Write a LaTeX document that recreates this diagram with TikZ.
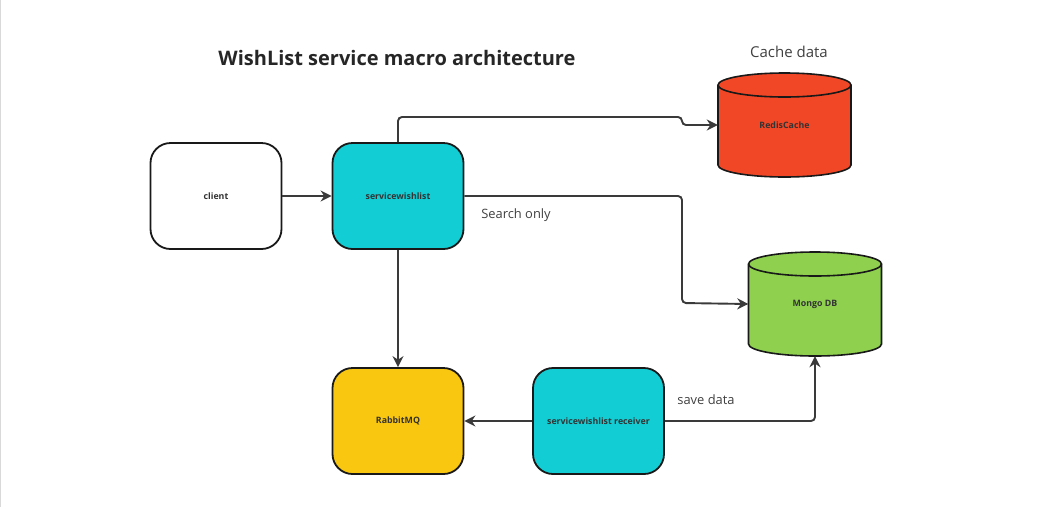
\documentclass[tikz,border=0pt]{standalone}
\usepackage{fontspec}
\setmainfont{Open Sans}
\usepackage{xcolor}
\usetikzlibrary{arrows.meta,positioning}
\definecolor{tealbox}{HTML}{12CDD4}
\definecolor{yellowbox}{HTML}{FAC710}
\definecolor{redcyl}{HTML}{F24726}
\definecolor{greencyl}{HTML}{8FD14F}
\definecolor{inkline}{HTML}{3A3A3A}
% drum outline: centre x, top-cap y, bottom-cap y, fill
\newcommand{\drum}[4]{%
  \filldraw[fill=#4, draw=black!90, line width=1.6pt]
    (#1-66.5,#2) -- (#1-66.5,#3) arc[start angle=180, end angle=360, x radius=66.5pt, y radius=12pt]
    -- (#1+66.5,#2) arc[start angle=0, end angle=180, x radius=66.5pt, y radius=12pt] -- cycle;
  \draw[draw=black!90, line width=1.6pt]
    (#1-66.5,#2) arc[start angle=180, end angle=360, x radius=66.5pt, y radius=12pt];}
\tikzset{
  svcbox/.style={draw=black!90, line width=1.8pt, rounded corners=20pt,
    minimum width=131pt, minimum height=106pt, font=\fontsize{8.8}{10}\selectfont\bfseries, text=black!80},
  dbspot/.style={minimum width=133pt, minimum height=104pt,
    font=\fontsize{8.8}{10}\selectfont\bfseries, text=black!80},
  conn/.style={draw=inkline, line width=1.9pt, -{Stealth[length=11pt,width=11pt]}, rounded corners=4pt},
  lbl/.style={font=\fontsize{12.9}{15}\selectfont, text=black!75}
}
\begin{document}
\begin{tikzpicture}[x=1pt,y=-1pt]
\useasboundingbox (0,0) rectangle (1042,507);
\draw[black!15, line width=1pt] (0.5,0) -- (0.5,507);
% title and notes
\node[font=\fontsize{20}{24}\selectfont\bfseries, text=black!85] (title) at (397,58) {WishList service macro architecture};
\node[font=\fontsize{15}{18}\selectfont, text=black!75] (cachenote) at (789,52) {Cache data};
% boxes
\node[svcbox, fill=white] (client) at (216,196) {client};
\node[svcbox, fill=tealbox] (sw) at (398,196) {servicewishlist};
\node[svcbox, fill=yellowbox] (rabbit) at (398,421) {RabbitMQ};
\node[svcbox, fill=tealbox] (recv) at (598.5,421) {servicewishlist receiver};
% databases
\drum{784.5}{85}{165}{redcyl}
\node[dbspot] (redis) at (784.5,125) {RedisCache};
\drum{815}{264}{344}{greencyl}
\node[dbspot] (mongo) at (815,304) {Mongo DB};
% connectors
\draw[conn] (client) -- (sw);
\draw[conn] (sw.north) |- (682,117) |- (redis.west);
\draw[conn] (sw.east) -| (682,303) -- (mongo.west);
\draw[conn] (sw) -- (rabbit);
\draw[conn] (recv) -- (rabbit);
\draw[conn] (recv.east) -| (mongo.south);
% labels
\node[lbl] (searchlbl) at (516,215) {Search only};
\node[lbl] (savelbl) at (706,400) {save data};
\end{tikzpicture}
\end{document}
